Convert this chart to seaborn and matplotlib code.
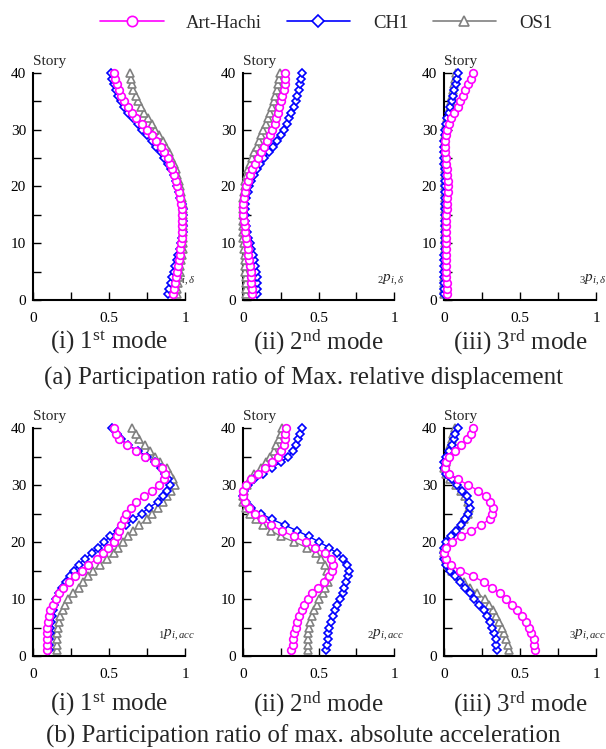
import numpy as np
import pandas as pd
import seaborn as sns
import matplotlib.pyplot as plt
from matplotlib.lines import Line2D

stories = list(range(1, 41))
records = ['Art-Hachi', 'CH1', 'OS1']

# (a) relative displacement, mode 1..3 (story 1 -> 40)
disp1_art = [0.92, 0.926, 0.932, 0.938, 0.945, 0.952, 0.958, 0.965, 0.97, 0.975,
             0.978, 0.98, 0.982, 0.982, 0.98, 0.977, 0.972, 0.965, 0.96, 0.95,
             0.94, 0.93, 0.915, 0.90, 0.885, 0.86, 0.84, 0.81, 0.78, 0.75,
             0.72, 0.68, 0.65, 0.625, 0.60, 0.58, 0.565, 0.55, 0.54, 0.53]
disp1_ch1 = [0.89, 0.897, 0.905, 0.915, 0.925, 0.935, 0.945, 0.955, 0.965, 0.972,
             0.98, 0.985, 0.99, 0.99, 0.99, 0.985, 0.978, 0.97, 0.96, 0.95,
             0.94, 0.925, 0.91, 0.89, 0.865, 0.84, 0.81, 0.78, 0.75, 0.72,
             0.69, 0.655, 0.625, 0.60, 0.58, 0.56, 0.545, 0.53, 0.52, 0.51]
disp1_os1 = [0.945, 0.95, 0.955, 0.96, 0.965, 0.97, 0.975, 0.98, 0.985, 0.988,
             0.99, 0.99, 0.99, 0.99, 0.99, 0.99, 0.985, 0.98, 0.975, 0.968,
             0.96, 0.95, 0.94, 0.925, 0.91, 0.895, 0.875, 0.855, 0.83, 0.80,
             0.78, 0.755, 0.73, 0.71, 0.69, 0.675, 0.66, 0.65, 0.645, 0.64]

disp2_art = [0.06, 0.06, 0.055, 0.055, 0.05, 0.045, 0.04, 0.035, 0.03, 0.025,
             0.02, 0.015, 0.01, 0.005, 0.0, 0.0, 0.0, 0.005, 0.01, 0.02,
             0.03, 0.045, 0.06, 0.08, 0.10, 0.12, 0.14, 0.16, 0.18, 0.195,
             0.21, 0.22, 0.23, 0.24, 0.25, 0.26, 0.27, 0.275, 0.28, 0.28]
disp2_ch1 = [0.095, 0.095, 0.09, 0.09, 0.085, 0.08, 0.07, 0.065, 0.055, 0.045,
             0.035, 0.025, 0.02, 0.015, 0.01, 0.01, 0.015, 0.02, 0.03, 0.04,
             0.05, 0.07, 0.09, 0.115, 0.14, 0.17, 0.20, 0.225, 0.25, 0.27,
             0.29, 0.305, 0.32, 0.335, 0.35, 0.36, 0.37, 0.38, 0.385, 0.39]
disp2_os1 = [0.02, 0.02, 0.02, 0.02, 0.015, 0.015, 0.01, 0.01, 0.005, 0.005,
             0.0, 0.0, 0.0, 0.0, 0.0, 0.0, 0.0, 0.0, 0.005, 0.01,
             0.015, 0.025, 0.035, 0.045, 0.06, 0.075, 0.09, 0.105, 0.12, 0.135,
             0.15, 0.165, 0.18, 0.195, 0.205, 0.215, 0.225, 0.235, 0.24, 0.245]

disp3_art = [0.02, 0.02, 0.018, 0.016, 0.015, 0.013, 0.012, 0.011, 0.01, 0.01,
             0.01, 0.011, 0.012, 0.014, 0.016, 0.018, 0.02, 0.022, 0.024, 0.025,
             0.024, 0.022, 0.018, 0.014, 0.01, 0.006, 0.005, 0.008, 0.013, 0.02,
             0.032, 0.048, 0.068, 0.09, 0.108, 0.125, 0.14, 0.158, 0.175, 0.19]
disp3_ch1 = [0.0, 0.0, 0.0, 0.0, 0.0, 0.0, 0.002, 0.003, 0.004, 0.005,
             0.005, 0.005, 0.005, 0.005, 0.005, 0.005, 0.005, 0.005, 0.005, 0.005,
             0.005, 0.005, 0.004, 0.003, 0.002, 0.002, 0.002, 0.003, 0.004, 0.006,
             0.01, 0.02, 0.03, 0.04, 0.05, 0.06, 0.068, 0.076, 0.083, 0.09]
disp3_os1 = [0.002, 0.002, 0.002, 0.003, 0.004, 0.005, 0.006, 0.007, 0.008, 0.008,
             0.008, 0.008, 0.008, 0.008, 0.008, 0.008, 0.008, 0.008, 0.008, 0.008,
             0.008, 0.007, 0.006, 0.005, 0.004, 0.004, 0.004, 0.005, 0.007, 0.01,
             0.015, 0.022, 0.03, 0.038, 0.045, 0.052, 0.06, 0.066, 0.073, 0.08]

# (b) absolute acceleration, mode 1..3 (story 1 -> 40)
acc1_art = [0.09, 0.09, 0.09, 0.09, 0.095, 0.10, 0.105, 0.115, 0.13, 0.15,
            0.17, 0.20, 0.235, 0.275, 0.32, 0.36, 0.42, 0.46, 0.495, 0.53,
            0.55, 0.565, 0.58, 0.60, 0.615, 0.645, 0.68, 0.73, 0.78, 0.83,
            0.86, 0.87, 0.85, 0.80, 0.74, 0.68, 0.62, 0.565, 0.545, 0.53]
acc1_ch1 = [0.105, 0.105, 0.107, 0.11, 0.113, 0.117, 0.122, 0.13, 0.14, 0.152,
            0.168, 0.19, 0.215, 0.245, 0.27, 0.30, 0.34, 0.385, 0.43, 0.47,
            0.505, 0.56, 0.615, 0.66, 0.715, 0.76, 0.82, 0.855, 0.88, 0.90,
            0.89, 0.87, 0.845, 0.80, 0.75, 0.69, 0.625, 0.58, 0.55, 0.52]
acc1_os1 = [0.155, 0.155, 0.155, 0.16, 0.165, 0.17, 0.18, 0.195, 0.21, 0.23,
            0.265, 0.30, 0.33, 0.36, 0.395, 0.44, 0.485, 0.53, 0.56, 0.59,
            0.625, 0.66, 0.70, 0.75, 0.78, 0.825, 0.855, 0.88, 0.91, 0.935,
            0.92, 0.90, 0.88, 0.835, 0.80, 0.77, 0.735, 0.70, 0.675, 0.65]

acc2_art = [0.32, 0.33, 0.33, 0.34, 0.35, 0.36, 0.37, 0.39, 0.405, 0.43,
            0.46, 0.495, 0.535, 0.57, 0.59, 0.595, 0.585, 0.545, 0.48, 0.415,
            0.335, 0.255, 0.185, 0.125, 0.078, 0.04, 0.013, 0.0, 0.0, 0.018,
            0.05, 0.10, 0.145, 0.19, 0.23, 0.25, 0.27, 0.275, 0.28, 0.285]
acc2_ch1 = [0.55, 0.555, 0.56, 0.565, 0.57, 0.585, 0.595, 0.61, 0.625, 0.645,
            0.66, 0.67, 0.685, 0.695, 0.70, 0.69, 0.665, 0.625, 0.57, 0.505,
            0.435, 0.355, 0.275, 0.19, 0.12, 0.05, 0.02, 0.0, 0.005, 0.03,
            0.075, 0.13, 0.19, 0.25, 0.30, 0.33, 0.35, 0.365, 0.38, 0.39]
acc2_os1 = [0.43, 0.43, 0.43, 0.43, 0.44, 0.445, 0.455, 0.47, 0.49, 0.505,
            0.53, 0.545, 0.56, 0.565, 0.555, 0.54, 0.515, 0.485, 0.425, 0.34,
            0.25, 0.185, 0.13, 0.085, 0.045, 0.018, 0.0, 0.0, 0.005, 0.025,
            0.045, 0.075, 0.12, 0.15, 0.18, 0.205, 0.22, 0.24, 0.25, 0.26]

acc3_art = [0.60, 0.595, 0.59, 0.575, 0.56, 0.54, 0.51, 0.48, 0.45, 0.41,
            0.37, 0.315, 0.26, 0.19, 0.105, 0.045, 0.01, 0.0, 0.015, 0.053,
            0.11, 0.18, 0.245, 0.30, 0.315, 0.325, 0.305, 0.275, 0.225, 0.16,
            0.09, 0.033, 0.005, 0.01, 0.035, 0.07, 0.115, 0.15, 0.175, 0.19]
acc3_ch1 = [0.35, 0.345, 0.34, 0.33, 0.315, 0.30, 0.28, 0.26, 0.23, 0.20,
            0.17, 0.135, 0.105, 0.07, 0.038, 0.01, 0.0, 0.0, 0.0, 0.015,
            0.048, 0.08, 0.11, 0.135, 0.16, 0.17, 0.165, 0.15, 0.12, 0.085,
            0.05, 0.015, 0.0, 0.0, 0.015, 0.033, 0.05, 0.065, 0.075, 0.09]
acc3_os1 = [0.43, 0.42, 0.41, 0.395, 0.38, 0.365, 0.345, 0.32, 0.295, 0.27,
            0.22, 0.17, 0.13, 0.09, 0.05, 0.025, 0.01, 0.0, 0.0, 0.015,
            0.045, 0.075, 0.105, 0.13, 0.155, 0.165, 0.16, 0.14, 0.115, 0.08,
            0.04, 0.01, 0.0, 0.01, 0.02, 0.03, 0.04, 0.05, 0.06, 0.07]

panels = [
    [(disp1_art, disp1_ch1, disp1_os1), (disp2_art, disp2_ch1, disp2_os1), (disp3_art, disp3_ch1, disp3_os1)],
    [(acc1_art, acc1_ch1, acc1_os1), (acc2_art, acc2_ch1, acc2_os1), (acc3_art, acc3_ch1, acc3_os1)],
]
xlabels = [
    [r'${}_{1}p_{i,\delta}$', r'${}_{2}p_{i,\delta}$', r'${}_{3}p_{i,\delta}$'],
    [r'${}_{1}p_{i,acc}$', r'${}_{2}p_{i,acc}$', r'${}_{3}p_{i,acc}$'],
]
subtitles = [r'(i) 1$^{\rm st}$ mode', r'(ii) 2$^{\rm nd}$ mode', r'(iii) 3$^{\rm rd}$ mode']
captions = ['(a) Participation ratio of Max. relative displacement',
            '(b) Participation ratio of max. absolute acceleration']

colors = {'Art-Hachi': '#ff00ff', 'CH1': '#0000ff', 'OS1': '#808080'}
markers = {'Art-Hachi': 'o', 'CH1': 'D', 'OS1': '^'}
msize = {'Art-Hachi': 5.5, 'CH1': 4.3, 'OS1': 5.5}
draw_order = ['OS1', 'CH1', 'Art-Hachi']

sns.set_style('ticks')
plt.rcParams['font.family'] = ['Liberation Serif', 'DejaVu Serif']
plt.rcParams['mathtext.fontset'] = 'custom'
plt.rcParams['mathtext.rm'] = 'Liberation Serif'
plt.rcParams['mathtext.it'] = 'Liberation Serif:italic'

fig = plt.figure(figsize=(6.06, 7.49), dpi=100)

lefts = [33, 243, 444]
widths = [152, 151, 152]
rows_px = [(73, 300), (428, 656)]
W, H = 606.0, 749.0

for r, (top, bot) in enumerate(rows_px):
    for c in range(3):
        ax = fig.add_axes([lefts[c] / W, 1 - bot / H, widths[c] / W, (bot - top) / H])
        vals = panels[r][c]
        df = pd.DataFrame({
            'ratio': np.concatenate(vals),
            'story': stories * 3,
            'record': np.repeat(records, len(stories)),
        })
        for rec in draw_order:
            sub = df[df['record'] == rec]
            sns.lineplot(data=sub, x='ratio', y='story', orient='y', ax=ax,
                         color=colors[rec], marker=markers[rec], ms=msize[rec],
                         mfc='white', mec=colors[rec], mew=1.2, lw=1.0,
                         legend=False, clip_on=False, zorder=3)
        ax.set_xlim(0, 1)
        ax.set_ylim(0, 40)
        ax.set_xticks([0, 0.5, 1])
        ax.set_xticklabels(['0', '0.5', '1'])
        ax.set_xticks([0.25, 0.75], minor=True)
        ax.set_yticks([0, 10, 20, 30, 40])
        ax.set_yticks([5, 15, 25, 35], minor=True)
        ax.tick_params(which='both', direction='in', length=5.5, width=1.0,
                       labelsize=11, colors='black', pad=5)
        ax.tick_params(axis='x', pad=9)
        for s in ['top', 'right']:
            ax.spines[s].set_visible(False)
        for s in ['left', 'bottom']:
            ax.spines[s].set_linewidth(1.5)
            ax.spines[s].set_color('black')
        ax.set_xlabel('')
        ax.set_ylabel('')
        ax.text(0, 1.02, 'Story', transform=ax.transAxes, ha='left', va='bottom', fontsize=11)
        ax.text(1.07, 0.055, xlabels[r][c], transform=ax.transAxes, ha='right',
                va='bottom', fontsize=11, zorder=1)
        cx = (lefts[c] + widths[c] / 2) / W
        sub_y = 1 - (342 if r == 0 else 704) / H
        fig.text(cx, sub_y, subtitles[c], ha='center', va='center', fontsize=18)
    cap_y = 1 - (378 if r == 0 else 736) / H
    fig.text(0.5, cap_y, captions[r], ha='center', va='center', fontsize=18)

handles = [Line2D([], [], color=colors[rec], marker=markers[rec], ms=msize[rec] * 1.35,
                  mfc='white', mec=colors[rec], mew=1.2, lw=1.2) for rec in records]
fig.legend(handles, records, loc='center', bbox_to_anchor=(326 / W, 1 - 23 / H),
           ncol=3, frameon=False, fontsize=13.5, handlelength=3.4,
           handletextpad=1.2, columnspacing=1.3)

fig.savefig('out.png', dpi=100)
